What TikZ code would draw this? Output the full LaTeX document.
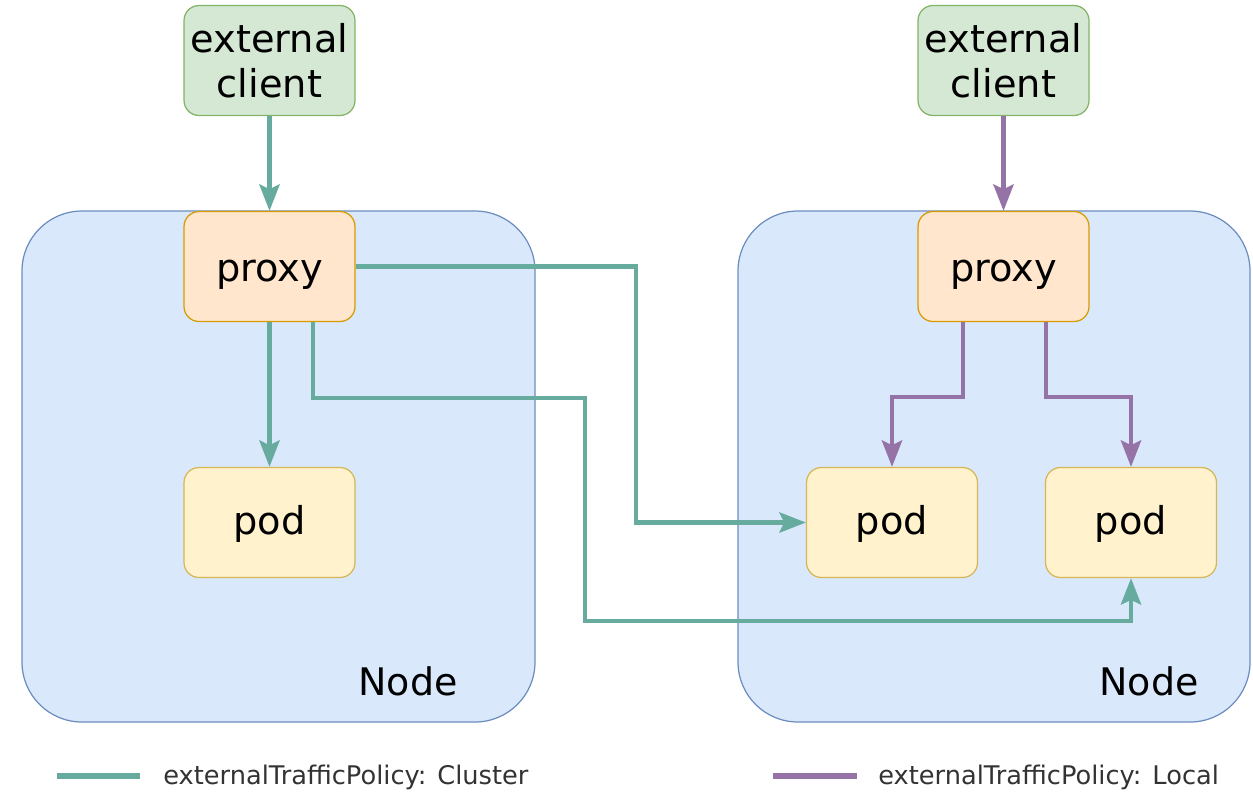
\documentclass[tikz,border=0pt]{standalone}
\usepackage{fontspec}
\setmainfont{DejaVu Sans}
\usetikzlibrary{arrows.meta}
\definecolor{nodefill}{HTML}{DAE8FC}
\definecolor{nodeline}{HTML}{6C8EBF}
\definecolor{clientfill}{HTML}{D5E8D4}
\definecolor{clientline}{HTML}{82B366}
\definecolor{proxyfill}{HTML}{FFE6CC}
\definecolor{proxyline}{HTML}{D79B00}
\definecolor{podfill}{HTML}{FFF2CC}
\definecolor{podline}{HTML}{D6B656}
\definecolor{cluster}{HTML}{67AB9F}
\definecolor{local}{HTML}{9673A6}
\definecolor{legendtext}{HTML}{333333}
\tikzset{
  hostbox/.style={draw=nodeline, fill=nodefill, line width=0.7pt, rounded corners=1.2cm},
  smallbox/.style={rounded corners=0.3cm, line width=0.7pt, minimum width=3.42cm,
    minimum height=2.2cm, inner sep=0pt, align=center,
    font=\fontsize{21.8}{25.6}\selectfont},
  clientbox/.style={smallbox, draw=clientline, fill=clientfill},
  proxybox/.style={smallbox, text height=16.5pt, text depth=0pt, draw=proxyline, fill=proxyfill},
  podbox/.style={smallbox, text height=14.2pt, text depth=0pt, draw=podline, fill=podfill},
  hostlabel/.style={anchor=base, font=\fontsize{21.6}{25.6}\selectfont, inner sep=0pt},
  flow/.style={line width=2.6pt, -{Stealth[length=15pt, width=11.4pt, inset=2.6pt]}},
  clusterflow/.style={flow, draw=cluster},
  localflow/.style={flow, draw=local},
  legendline/.style={line width=3.2pt},
  legendlabel/.style={anchor=west, text=legendtext, inner sep=0pt,
    font=\fontsize{14.6}{17}\selectfont}
}
\begin{document}
\begin{tikzpicture}[x=0.02cm, y=-0.02cm]
  \useasboundingbox (0,0) rectangle (1253,792);

  % the two hosts
  \path[hostbox] (22,211) rectangle (535,722);
  \path[hostbox] (738,211) rectangle (1250,722);
  \node[hostlabel] (hostA) at (408,695) {Node};
  \node[hostlabel] (hostB) at (1149,695) {Node};

  % boxes
  \node[clientbox] (clientA) at (269.5,60.5) {external\\client};
  \node[clientbox] (clientB) at (1003.5,60.5) {external\\client};
  \node[proxybox] (proxyA) at (269.5,266.5) {proxy};
  \node[proxybox] (proxyB) at (1003.5,266.5) {proxy};
  \node[podbox] (podA) at (269.5,522.5) {pod};
  \node[podbox] (podB) at (892,522.5) {pod};
  \node[podbox] (podC) at (1131,522.5) {pod};

  % externalTrafficPolicy: Cluster
  \draw[clusterflow] (clientA) -- (proxyA);
  \draw[clusterflow] (proxyA) -- (podA);
  \draw[clusterflow] (proxyA.east) -- (636,266.5) -- (636,522.5) -- (podB.west);
  \draw[clusterflow] (proxyA.south -| 313,0) -- (313,398) -- (585,398)
    -- (585,621) -- (1131,621) -- (podC.south);

  % externalTrafficPolicy: Local
  \draw[localflow] (clientB) -- (proxyB);
  \draw[localflow] (proxyB.south -| 963,0) -- (963,397) -- (892,397) -- (podB.north);
  \draw[localflow] (proxyB.south -| 1046,0) -- (1046,397) -- (1131,397) -- (podC.north);

  % legend
  \coordinate (legA1) at (57,776);
  \coordinate (legA2) at (140,776);
  \coordinate (legB1) at (773,776);
  \coordinate (legB2) at (857,776);
  \draw[legendline, cluster] (legA1) -- (legA2);
  \draw[legendline, local] (legB1) -- (legB2);
  \node[legendlabel] (legAtext) at (163,777) {externalTrafficPolicy: Cluster};
  \node[legendlabel] (legBtext) at (878,777) {externalTrafficPolicy: Local};
\end{tikzpicture}
\end{document}
